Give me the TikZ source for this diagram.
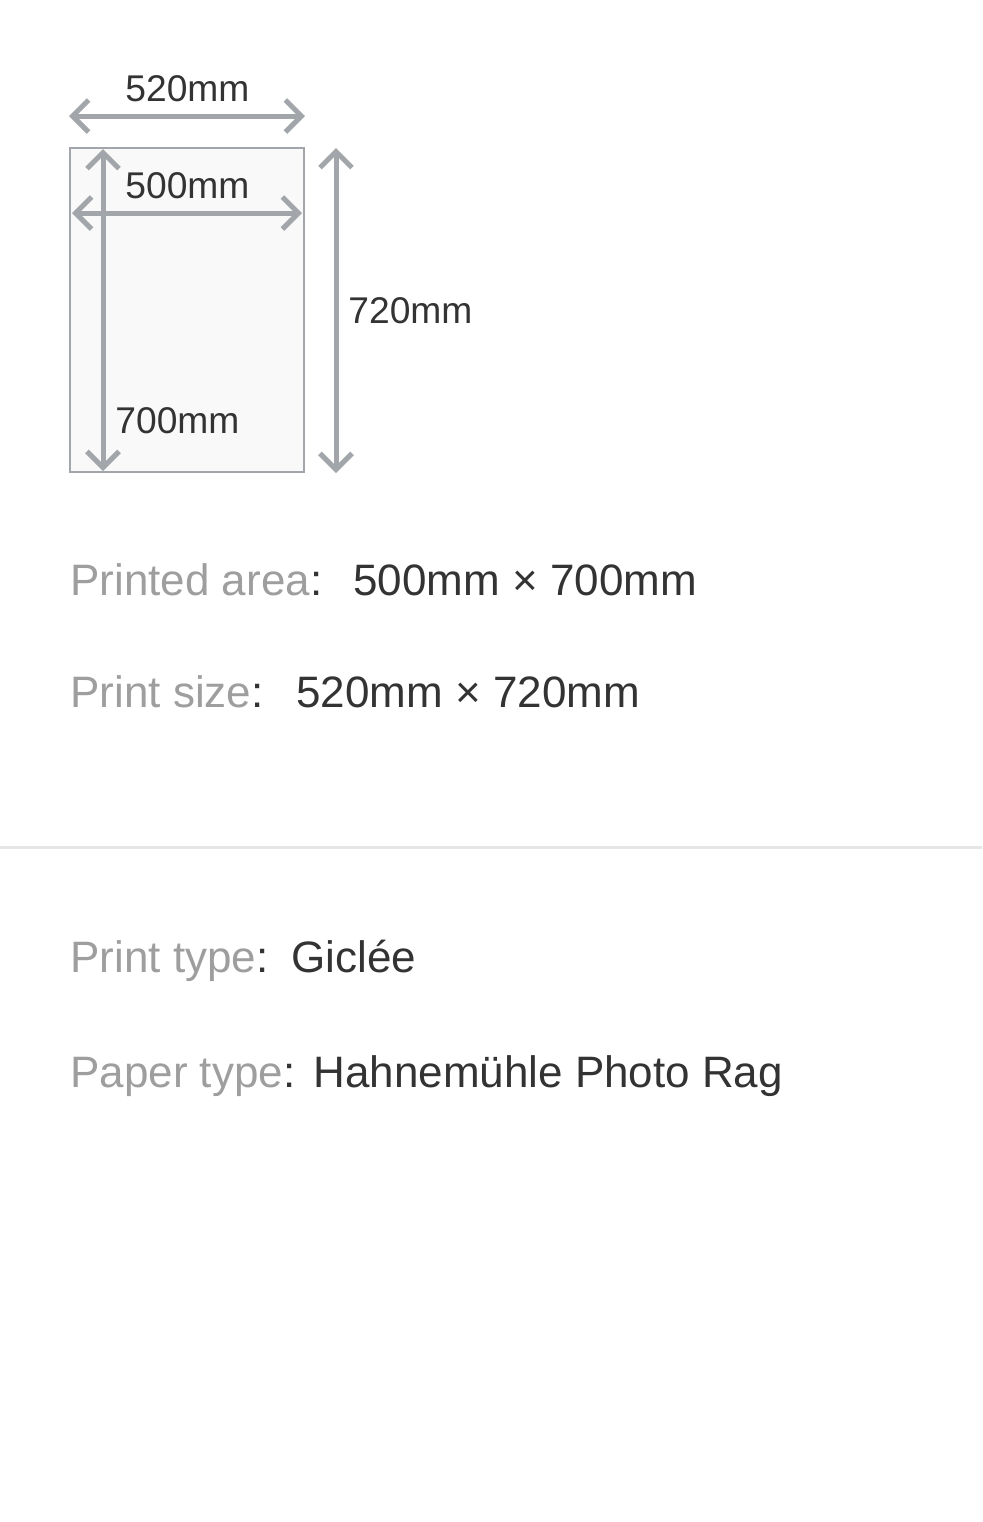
\documentclass[tikz,border=0pt]{standalone}
\usepackage{fontspec}
\setmainfont{Liberation Sans}
\usetikzlibrary{arrows.meta}
\usetikzlibrary{positioning}
\definecolor{dimgray}{HTML}{A2A6AA}
\definecolor{labelgray}{HTML}{9E9E9E}
\definecolor{textdark}{HTML}{333333}
\definecolor{sheetfill}{HTML}{F9F9F9}
\definecolor{rulegray}{HTML}{E6E6E6}
\tikzset{
    dimArrow/.style={draw=dimgray, line width=2.5pt,
        {Straight Barb[length=8pt,width=16pt]}-{Straight Barb[length=8pt,width=16pt]}},
    dimLabel/.style={anchor=base west, inner sep=0pt, text=textdark,
        font=\fontsize{18.6}{21}\selectfont},
    infoKey/.style={anchor=base west, inner sep=0pt, text=textdark,
        font=\fontsize{22}{26}\selectfont},
    infoValue/.style={infoKey}
}

\begin{document}
\begin{tikzpicture}[x=0.5pt,y=-0.5pt]
	\useasboundingbox (0,0) rectangle (982,1522);
	% sheet
	\coordinate (sheetNW) at (70,148);
	\coordinate (sheetSE) at (304,472);
	\filldraw[fill=sheetfill, draw=dimgray, line width=1.3pt] (sheetNW) rectangle (sheetSE);
	% dimension arrows
	\coordinate (printL) at (69,116);
	\coordinate (printR) at (305,116);
	\coordinate (areaL) at (72,213);
	\coordinate (areaR) at (302,213);
	\coordinate (areaT) at (103,149);
	\coordinate (areaB) at (103,471);
	\coordinate (printT) at (336,148);
	\coordinate (printB) at (336,473);
	\draw[dimArrow] (printL) -- (printR);
	\draw[dimArrow] (areaL) -- (areaR);
	\draw[dimArrow] (areaT) -- (areaB);
	\draw[dimArrow] (printT) -- (printB);
	\node[dimLabel] (printW) at (125,101) {520mm};
	\node[dimLabel] (areaW) at (125,198) {500mm};
	\node[dimLabel] (areaH) at (115,433) {700mm};
	\node[dimLabel] (printH) at (348,323) {720mm};
	% details
	\node[infoKey] (areaKey) at (70,595) {\textcolor{labelgray}{Printed area}:};
	\node[infoValue] (areaVal) at (353,595) {500mm × 700mm};
	\node[infoKey] (sizeKey) at (70,707) {\textcolor{labelgray}{Print size}:};
	\node[infoValue] (sizeVal) at (296,707) {520mm × 720mm};
	\coordinate (ruleL) at (0,847);
	\coordinate (ruleR) at (982,847);
	\draw[rulegray, line width=1.5pt] (ruleL) -- (ruleR);
	\node[infoKey] (typeKey) at (70,972) {\textcolor{labelgray}{Print type}:};
	\node[infoValue] (typeVal) at (291,972) {Giclée};
	\node[infoKey] (paperKey) at (70,1087) {\textcolor{labelgray}{Paper type}:};
	\node[infoValue] (paperVal) at (313,1087) {Hahnemühle Photo Rag};
\end{tikzpicture}
\end{document}
